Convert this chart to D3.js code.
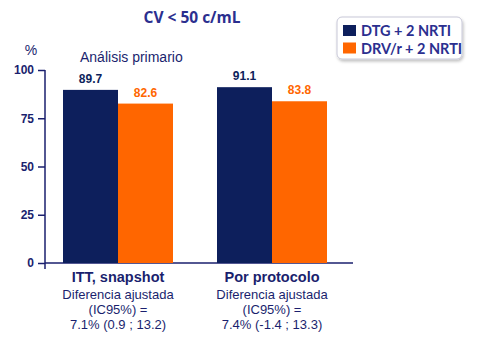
<!DOCTYPE html>
<html>
<head>
<meta charset="utf-8">
<script src="https://cdn.jsdelivr.net/npm/d3@7"></script>
<style>
  body { margin: 0; background: #fff; }
  svg text { font-family: "Liberation Sans", Arial, sans-serif; }
</style>
</head>
<body>
<div id="chart"></div>
<script>
var svgWidth = 480;
var svgHeight = 340;

// data
var categories = ["ITT, snapshot", "Por protocolo"];
var series = ["DTG + 2 NRTI", "DRV/r + 2 NRTI"];
var dtgValues = [89.7, 91.1];
var drvValues = [82.6, 83.8];
var yTicks = [0, 25, 50, 75, 100];
var notes = [
  ["Diferencia ajustada", "(IC95%) =", "7.1% (0.9 ; 13.2)"],
  ["Diferencia ajustada", "(IC95%) =", "7.4% (-1.4 ; 13.3)"]
];

var navy = "#0d1f5c";
var orange = "#ff6600";
var textNavy = "#1a1f6e";
var colors = [navy, orange];

var margin = { top: 70, left: 45, right: 127, bottom: 77 };
var width = svgWidth - margin.left - margin.right;
var height = svgHeight - margin.top - margin.bottom;

var svg = d3.select("#chart")
  .append("svg")
  .attr("width", svgWidth)
  .attr("height", svgHeight);

var defs = svg.append("defs");
var shadow = defs.append("filter").attr("id", "shadow")
  .attr("x", "-10%").attr("y", "-10%").attr("width", "130%").attr("height", "140%");
shadow.append("feDropShadow")
  .attr("dx", 1).attr("dy", 2).attr("stdDeviation", 1.5)
  .attr("flood-color", "#000").attr("flood-opacity", 0.25);

var chartGroup = svg.append("g")
  .attr("transform", `translate(${margin.left}, ${margin.top})`);

var yScale = d3.scaleLinear()
  .domain([0, 100])
  .range([height, 0]);

var x0 = d3.scaleBand()
  .domain(categories)
  .range([18, 282])
  .paddingInner(44 / 154)
  .paddingOuter(0);

var x1 = d3.scaleBand()
  .domain(series)
  .range([0, x0.bandwidth()]);

// y axis
var leftAxis = d3.axisLeft(yScale)
  .tickValues(yTicks)
  .tickSize(7)
  .tickPadding(4);

var yAxisG = chartGroup.append("g").call(leftAxis);
yAxisG.select(".domain").remove();
yAxisG.append("line")
  .attr("x1", 0).attr("x2", 0)
  .attr("y1", 0).attr("y2", height + 6)
  .attr("stroke", textNavy).attr("stroke-width", 1.5);
yAxisG.selectAll(".tick line").attr("stroke", textNavy).attr("stroke-width", 1.5);
yAxisG.selectAll(".tick text")
  .attr("fill", textNavy)
  .style("font-size", "12px")
  .style("font-weight", "bold");

// x axis baseline
chartGroup.append("line")
  .attr("x1", 0).attr("x2", 308)
  .attr("y1", height).attr("y2", height)
  .attr("stroke", textNavy).attr("stroke-width", 1.5);

var rows = categories.map(function(c, i) {
  return { category: c, values: [dtgValues[i], drvValues[i]] };
});

var groups = chartGroup.selectAll(".group")
  .data(rows)
  .enter()
  .append("g")
  .attr("transform", d => `translate(${x0(d.category)}, 0)`);

groups.selectAll("rect")
  .data(d => d.values.map((v, j) => ({ key: series[j], value: v, j: j })))
  .enter()
  .append("rect")
  .attr("x", d => x1(d.key))
  .attr("y", d => yScale(d.value))
  .attr("width", x1.bandwidth())
  .attr("height", d => height - yScale(d.value))
  .attr("fill", d => colors[d.j]);

groups.selectAll(".val")
  .data(d => d.values.map((v, j) => ({ key: series[j], value: v, j: j })))
  .enter()
  .append("text")
  .attr("x", d => x1(d.key) + x1.bandwidth() / 2)
  .attr("y", d => yScale(d.value) - 7)
  .attr("text-anchor", "middle")
  .attr("fill", d => d.j === 0 ? navy : orange)
  .style("font-size", "12px")
  .style("font-weight", "bold")
  .text(d => d.value.toFixed(1));

// category labels and notes
groups.append("text")
  .attr("x", x0.bandwidth() / 2)
  .attr("y", height + 19)
  .attr("text-anchor", "middle")
  .attr("fill", textNavy)
  .style("font-size", "14.5px")
  .style("font-weight", "bold")
  .text(d => d.category);

groups.each(function(d, i) {
  d3.select(this).selectAll(".note")
    .data(notes[i])
    .enter()
    .append("text")
    .attr("x", x0.bandwidth() / 2)
    .attr("y", (t, k) => height + 36 + k * 15)
    .attr("text-anchor", "middle")
    .attr("fill", textNavy)
    .style("font-size", "13px")
    .text(t => t);
});

// title and annotations
svg.append("text")
  .attr("x", 192)
  .attr("y", 23)
  .attr("text-anchor", "middle")
  .attr("fill", "#2b2f8f")
  .style("font-family", "'Open Sans', sans-serif")
  .style("font-size", "15.5px")
  .style("font-weight", "bold")
  .text("CV < 50 c/mL");

svg.append("text")
  .attr("x", 31)
  .attr("y", 55)
  .attr("text-anchor", "middle")
  .attr("fill", textNavy)
  .style("font-size", "14px")
  .text("%");

svg.append("text")
  .attr("x", 80)
  .attr("y", 62)
  .attr("fill", textNavy)
  .style("font-size", "14px")
  .text("Análisis primario");

// legend
var legend = svg.append("g").attr("transform", "translate(337, 17)");
legend.append("rect")
  .attr("width", 125).attr("height", 42)
  .attr("rx", 5)
  .attr("fill", "#fff")
  .attr("stroke", "#c8c8d8")
  .attr("stroke-width", 1)
  .attr("filter", "url(#shadow)");

var items = legend.selectAll(".item")
  .data(series)
  .enter()
  .append("g")
  .attr("transform", (d, i) => `translate(6, ${8 + i * 17.5})`);

items.append("rect")
  .attr("width", 13).attr("height", 11)
  .attr("fill", (d, i) => colors[i]);

items.append("text")
  .attr("x", 18)
  .attr("y", 11)
  .attr("fill", "#2b2f8f")
  .style("font-family", "Lato, sans-serif")
  .style("font-size", "14.5px")
  .style("font-weight", "bold")
  .text(d => d);
</script>
</body>
</html>
